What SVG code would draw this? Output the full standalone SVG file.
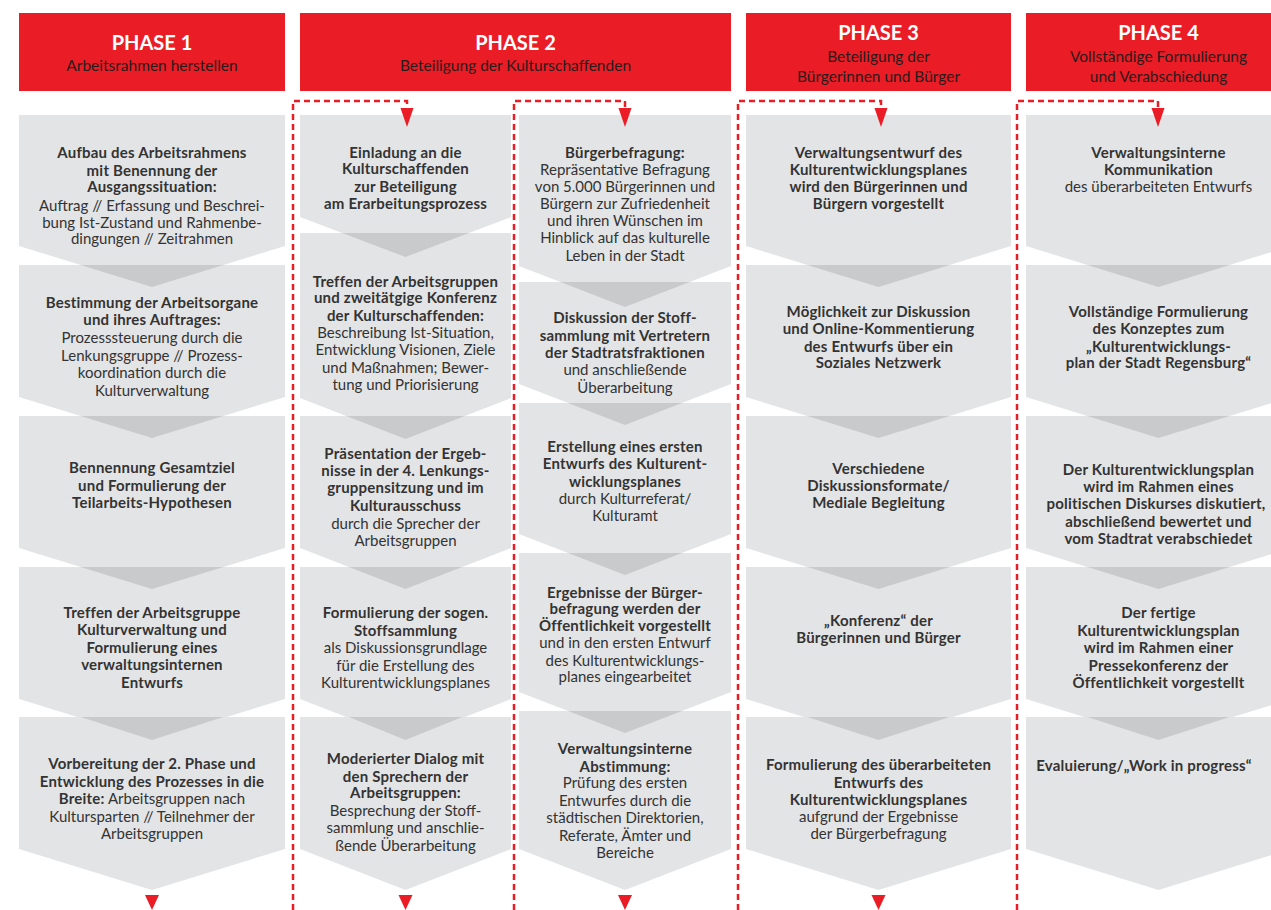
<svg xmlns="http://www.w3.org/2000/svg" width="1271" height="910" viewBox="0 0 1271 910">
<style>
.hdr{fill:#ea1d27}
.ph{font-family:Lato,"Open Sans",sans-serif;font-weight:700;font-size:20px;fill:#fff;text-anchor:middle}
.sub{font-family:Lato,"Open Sans",sans-serif;font-size:15.5px;fill:#2b1a1a;text-anchor:middle}
.box{fill:#e3e4e5}
.ov{fill:#c9cacc}
.t{font-family:Lato,"Open Sans",sans-serif;font-size:15px;fill:#333;text-anchor:middle}
.b{font-weight:700;letter-spacing:0.2px}
.dash{fill:none;stroke:#ea1d27;stroke-width:2.5;stroke-dasharray:6 4}
.arr{fill:#ea1d27}
</style>
<rect width="1271" height="910" fill="#fff"/>
<g id="headers">
<g id="phase1"><rect class="hdr" x="19" y="13" width="266" height="78"/><text class="ph" x="152" y="50">PHASE 1</text><text class="sub" x="152" y="71">Arbeitsrahmen herstellen</text></g>
<g id="phase2"><rect class="hdr" x="300" y="13" width="431" height="78"/><text class="ph" x="515.5" y="50">PHASE 2</text><text class="sub" x="515.5" y="71">Beteiligung der Kulturschaffenden</text></g>
<g id="phase3"><rect class="hdr" x="746" y="13" width="265" height="78"/><text class="ph" x="878.5" y="40">PHASE 3</text><text class="sub" x="878.5" y="62">Beteiligung der</text><text class="sub" x="878.5" y="82">Bürgerinnen und Bürger</text></g>
<g id="phase4"><rect class="hdr" x="1026" y="13" width="265" height="78"/><text class="ph" x="1158.5" y="40">PHASE 4</text><text class="sub" x="1158.5" y="62">Vollständige Formulierung</text><text class="sub" x="1158.5" y="82">und Verabschiedung</text></g>
</g>
<g id="shapes">
<polygon class="box" points="19,115 285,115 285,246 152,287 19,246"/>
<polygon class="box" points="19,265 285,265 285,397 152,438 19,397"/>
<polygon class="box" points="19,416 285,416 285,548 152,589 19,548"/>
<polygon class="box" points="19,567 285,567 285,699 152,740 19,699"/>
<polygon class="box" points="19,717 285,717 285,849 152,890 19,849"/>
<polygon class="ov" points="80.6,265 223.4,265 152,287"/>
<polygon class="ov" points="80.6,416 223.4,416 152,438"/>
<polygon class="ov" points="80.6,567 223.4,567 152,589"/>
<polygon class="ov" points="80.6,717 223.4,717 152,740"/>

<polygon class="box" points="300,115 511,115 511,217 405.5,257 300,217"/>
<polygon class="box" points="300,233 511,233 511,398 405.5,439 300,398"/>
<polygon class="box" points="300,416 511,416 511,548 405.5,589 300,548"/>
<polygon class="box" points="300,567 511,567 511,699 405.5,740 300,699"/>
<polygon class="box" points="300,717 511,717 511,849 405.5,890 300,849"/>
<polygon class="ov" points="342.2,233 468.8,233 405.5,257"/>
<polygon class="ov" points="346.3,416 464.7,416 405.5,439"/>
<polygon class="ov" points="348.9,567 462.1,567 405.5,589"/>
<polygon class="ov" points="348.9,717 462.1,717 405.5,740"/>

<polygon class="box" points="519,115 731,115 731,266 625,307 519,266"/>
<polygon class="box" points="519,282 731,282 731,384 625,425 519,384"/>
<polygon class="box" points="519,403 731,403 731,534 625,575 519,534"/>
<polygon class="box" points="519,553 731,553 731,692 625,733 519,692"/>
<polygon class="box" points="519,711 731,711 731,849 625,890 519,849"/>
<polygon class="ov" points="560.4,282 689.6,282 625,307"/>
<polygon class="ov" points="568.1,403 681.9,403 625,425"/>
<polygon class="ov" points="568.1,553 681.9,553 625,575"/>
<polygon class="ov" points="568.1,711 681.9,711 625,733"/>

<polygon class="box" points="746,115 1011,115 1011,246 878.5,287 746,246"/>
<polygon class="box" points="746,265 1011,265 1011,397 878.5,438 746,397"/>
<polygon class="box" points="746,416 1011,416 1011,548 878.5,589 746,548"/>
<polygon class="box" points="746,567 1011,567 1011,699 878.5,740 746,699"/>
<polygon class="box" points="746,717 1011,717 1011,849 878.5,890 746,849"/>
<polygon class="ov" points="807.4,265 949.6,265 878.5,287"/>
<polygon class="ov" points="807.4,416 949.6,416 878.5,438"/>
<polygon class="ov" points="807.4,567 949.6,567 878.5,589"/>
<polygon class="ov" points="807.4,717 949.6,717 878.5,740"/>

<polygon class="box" points="1026,115 1291,115 1291,246 1158.5,287 1026,246"/>
<polygon class="box" points="1026,265 1291,265 1291,397 1158.5,438 1026,397"/>
<polygon class="box" points="1026,416 1291,416 1291,548 1158.5,589 1026,548"/>
<polygon class="box" points="1026,567 1291,567 1291,699 1158.5,740 1026,699"/>
<polygon class="box" points="1026,717 1291,717 1291,849 1158.5,890 1026,849"/>
<polygon class="ov" points="1087.4,265 1229.6,265 1158.5,287"/>
<polygon class="ov" points="1087.4,416 1229.6,416 1158.5,438"/>
<polygon class="ov" points="1087.4,567 1229.6,567 1158.5,589"/>
<polygon class="ov" points="1087.4,717 1229.6,717 1158.5,740"/>
</g>
<g id="connectors">
<path class="dash" d="M293 910 V101 H407 V108"/>
<path class="dash" d="M514 910 V101 H625 V108"/>
<path class="dash" d="M738 910 V101 H881 V108"/>
<path class="dash" d="M1017 910 V101 H1158 V108"/>
<polygon class="arr" points="400.5,108 413.5,108 407,127"/>
<polygon class="arr" points="618.5,108 631.5,108 625,127"/>
<polygon class="arr" points="874.5,108 887.5,108 881,127"/>
<polygon class="arr" points="1151.5,108 1164.5,108 1158,127"/>
<polygon class="arr" points="145,895 159,895 152,910"/>
<polygon class="arr" points="398.5,895 412.5,895 405.5,910"/>
<polygon class="arr" points="618,895 632,895 625,910"/>
<polygon class="arr" points="871.5,895 885.5,895 878.5,910"/>
</g>
<g id="c1n1"><text class="t"><tspan class="b" x="152" y="158">Aufbau des Arbeitsrahmens</tspan><tspan class="b" x="152" y="176">mit Benennung der</tspan><tspan class="b" x="152" y="192">Ausgangssituation:</tspan><tspan x="152" y="211">Auftrag // Erfassung und Beschrei-</tspan><tspan x="152" y="228">bung Ist-Zustand und Rahmenbe-</tspan><tspan x="152" y="244">dingungen // Zeitrahmen</tspan></text></g>
<g id="c1n2"><text class="t"><tspan class="b" x="152" y="308">Bestimmung der Arbeitsorgane</tspan><tspan class="b" x="152" y="325">und ihres Auftrages:</tspan><tspan x="152" y="343">Prozesssteuerung durch die</tspan><tspan x="152" y="361">Lenkungsgruppe // Prozess-</tspan><tspan x="152" y="378">koordination durch die</tspan><tspan x="152" y="396">Kulturverwaltung</tspan></text></g>
<g id="c1n3"><text class="t b"><tspan x="152" y="473">Bennennung Gesamtziel</tspan><tspan x="152" y="491">und Formulierung der</tspan><tspan x="152" y="508">Teilarbeits-Hypothesen</tspan></text></g>
<g id="c1n4"><text class="t b"><tspan x="152" y="618">Treffen der Arbeitsgruppe</tspan><tspan x="152" y="635">Kulturverwaltung und</tspan><tspan x="152" y="653">Formulierung eines</tspan><tspan x="152" y="670">verwaltungsinternen</tspan><tspan x="152" y="688">Entwurfs</tspan></text></g>
<g id="c1n5"><text class="t"><tspan class="b" x="152" y="769">Vorbereitung der 2. Phase und</tspan><tspan class="b" x="152" y="787">Entwicklung des Prozesses in die</tspan><tspan x="152" y="804"><tspan class="b">Breite:</tspan> Arbeitsgruppen nach</tspan><tspan x="152" y="822">Kultursparten // Teilnehmer der</tspan><tspan x="152" y="839">Arbeitsgruppen</tspan></text></g>

<g id="c2n1"><text class="t b"><tspan x="405.5" y="158">Einladung an die</tspan><tspan x="405.5" y="174">Kulturschaffenden</tspan><tspan x="405.5" y="192">zur Beteiligung</tspan><tspan x="405.5" y="209">am Erarbeitungsprozess</tspan></text></g>
<g id="c2n2"><text class="t"><tspan class="b" x="405.5" y="287">Treffen der Arbeitsgruppen</tspan><tspan class="b" x="405.5" y="303">und zweitätgige Konferenz</tspan><tspan class="b" x="405.5" y="321">der Kulturschaffenden:</tspan><tspan x="405.5" y="338">Beschreibung Ist-Situation,</tspan><tspan x="405.5" y="355">Entwicklung Visionen, Ziele</tspan><tspan x="405.5" y="373">und Maßnahmen; Bewer-</tspan><tspan x="405.5" y="390">tung und Priorisierung</tspan></text></g>
<g id="c2n3"><text class="t"><tspan class="b" x="405.5" y="459">Präsentation der Ergeb-</tspan><tspan class="b" x="405.5" y="476">nisse in der 4. Lenkungs-</tspan><tspan class="b" x="405.5" y="493">gruppensitzung und im</tspan><tspan class="b" x="405.5" y="511">Kulturausschuss</tspan><tspan x="405.5" y="529">durch die Sprecher der</tspan><tspan x="405.5" y="546">Arbeitsgruppen</tspan></text></g>
<g id="c2n4"><text class="t"><tspan class="b" x="405.5" y="618">Formulierung der sogen.</tspan><tspan class="b" x="405.5" y="636">Stoffsammlung</tspan><tspan x="405.5" y="653">als Diskussionsgrundlage</tspan><tspan x="405.5" y="671">für die Erstellung des</tspan><tspan x="405.5" y="688">Kulturentwicklungsplanes</tspan></text></g>
<g id="c2n5"><text class="t"><tspan class="b" x="405.5" y="764">Moderierter Dialog mit</tspan><tspan class="b" x="405.5" y="782">den Sprechern der</tspan><tspan class="b" x="405.5" y="798">Arbeitsgruppen:</tspan><tspan x="405.5" y="816">Besprechung der Stoff-</tspan><tspan x="405.5" y="833">sammlung und anschlie-</tspan><tspan x="405.5" y="851">ßende Überarbeitung</tspan></text></g>

<g id="c3n1"><text class="t"><tspan class="b" x="625" y="158">Bürgerbefragung:</tspan><tspan x="625" y="175">Repräsentative Befragung</tspan><tspan x="625" y="192">von 5.000 Bürgerinnen und</tspan><tspan x="625" y="209">Bürgern zur Zufriedenheit</tspan><tspan x="625" y="226">und ihren Wünschen im</tspan><tspan x="625" y="243">Hinblick auf das kulturelle</tspan><tspan x="625" y="261">Leben in der Stadt</tspan></text></g>
<g id="c3n2"><text class="t"><tspan class="b" x="625" y="323">Diskussion der Stoff-</tspan><tspan class="b" x="625" y="341">sammlung mit Vertretern</tspan><tspan class="b" x="625" y="358">der Stadtratsfraktionen</tspan><tspan x="625" y="375">und anschließende</tspan><tspan x="625" y="393">Überarbeitung</tspan></text></g>
<g id="c3n3"><text class="t"><tspan class="b" x="625" y="452">Erstellung eines ersten</tspan><tspan class="b" x="625" y="469">Entwurfs des Kulturent-</tspan><tspan class="b" x="625" y="487">wicklungsplanes</tspan><tspan x="625" y="504">durch Kulturreferat/</tspan><tspan x="625" y="521">Kulturamt</tspan></text></g>
<g id="c3n4"><text class="t"><tspan class="b" x="625" y="598">Ergebnisse der Bürger-</tspan><tspan class="b" x="625" y="614">befragung werden der</tspan><tspan class="b" x="625" y="631">Öffentlichkeit vorgestellt</tspan><tspan x="625" y="648">und in den ersten Entwurf</tspan><tspan x="625" y="666">des Kulturentwicklungs-</tspan><tspan x="625" y="682">planes eingearbeitet</tspan></text></g>
<g id="c3n5"><text class="t"><tspan class="b" x="625" y="754">Verwaltungsinterne</tspan><tspan class="b" x="625" y="772">Abstimmung:</tspan><tspan x="625" y="788">Prüfung des ersten</tspan><tspan x="625" y="806">Entwurfes durch die</tspan><tspan x="625" y="823">städtischen Direktorien,</tspan><tspan x="625" y="841">Referate, Ämter und</tspan><tspan x="625" y="858">Bereiche</tspan></text></g>

<g id="c4n1"><text class="t b"><tspan x="878.5" y="158">Verwaltungsentwurf des</tspan><tspan x="878.5" y="175">Kulturentwicklungsplanes</tspan><tspan x="878.5" y="192">wird den Bürgerinnen und</tspan><tspan x="878.5" y="209">Bürgern vorgestellt</tspan></text></g>
<g id="c4n2"><text class="t b"><tspan x="878.5" y="317">Möglichkeit zur Diskussion</tspan><tspan x="878.5" y="334">und Online-Kommentierung</tspan><tspan x="878.5" y="352">des Entwurfs über ein</tspan><tspan x="878.5" y="368">Soziales Netzwerk</tspan></text></g>
<g id="c4n3"><text class="t b"><tspan x="878.5" y="474">Verschiedene</tspan><tspan x="878.5" y="491">Diskussionsformate/</tspan><tspan x="878.5" y="508">Mediale Begleitung</tspan></text></g>
<g id="c4n4"><text class="t b"><tspan x="878.5" y="626">„Konferenz“ der</tspan><tspan x="878.5" y="643">Bürgerinnen und Bürger</tspan></text></g>
<g id="c4n5"><text class="t"><tspan class="b" x="878.5" y="770">Formulierung des überarbeiteten</tspan><tspan class="b" x="878.5" y="788">Entwurfs des</tspan><tspan class="b" x="878.5" y="805">Kulturentwicklungsplanes</tspan><tspan x="878.5" y="822">aufgrund der Ergebnisse</tspan><tspan x="878.5" y="839">der Bürgerbefragung</tspan></text></g>

<g id="c5n1"><text class="t"><tspan class="b" x="1158.5" y="158">Verwaltungsinterne</tspan><tspan class="b" x="1158.5" y="175">Kommunikation</tspan><tspan x="1158.5" y="192">des überarbeiteten Entwurfs</tspan></text></g>
<g id="c5n2"><text class="t b"><tspan x="1158.5" y="317">Vollständige Formulierung</tspan><tspan x="1158.5" y="334">des Konzeptes zum</tspan><tspan x="1158.5" y="352">„Kulturentwicklungs-</tspan><tspan x="1158.5" y="368">plan der Stadt Regensburg“</tspan></text></g>
<g id="c5n3"><text class="t b"><tspan x="1158.5" y="475">Der Kulturentwicklungsplan</tspan><tspan x="1158.5" y="492">wird im Rahmen eines</tspan><tspan x="1156" y="509">politischen Diskurses diskutiert,</tspan><tspan x="1158.5" y="527">abschließend bewertet und</tspan><tspan x="1158.5" y="544">vom Stadtrat verabschiedet</tspan></text></g>
<g id="c5n4"><text class="t b"><tspan x="1158.5" y="618">Der fertige</tspan><tspan x="1158.5" y="636">Kulturentwicklungsplan</tspan><tspan x="1158.5" y="653">wird im Rahmen einer</tspan><tspan x="1158.5" y="671">Pressekonferenz der</tspan><tspan x="1158.5" y="688">Öffentlichkeit vorgestellt</tspan></text></g>
<g id="c5n5"><text class="t b"><tspan x="1144" y="771">Evaluierung/„Work in progress“</tspan></text></g>
</svg>
